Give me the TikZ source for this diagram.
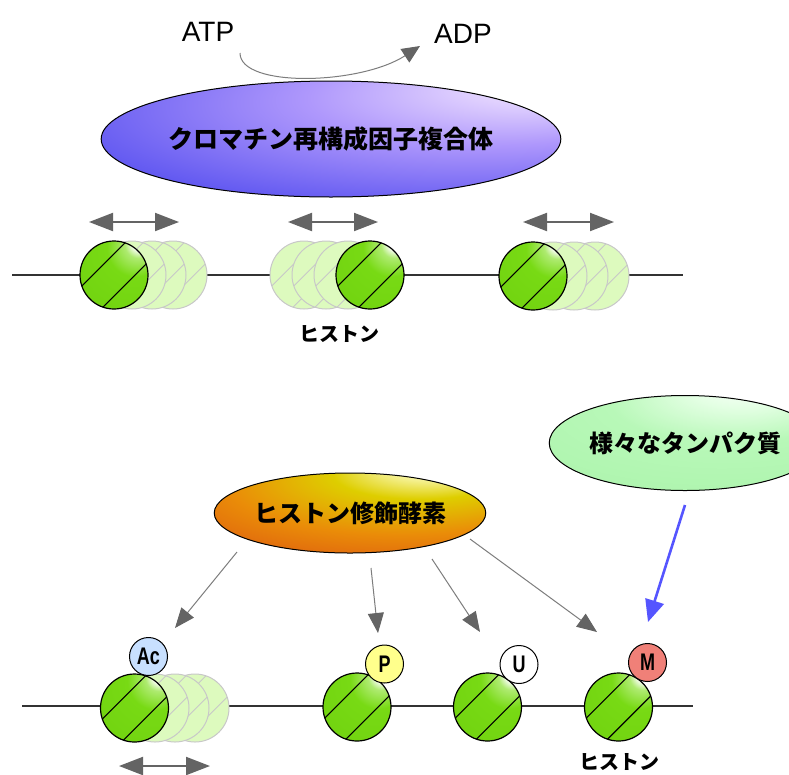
\documentclass[tikz,border=0pt]{standalone}
\usepackage{fontspec}
\usepackage{graphicx}
\setmainfont{Liberation Sans}
\newfontfamily\jpfont{Noto Sans CJK JP}
\usetikzlibrary{shapes.geometric,arrows.meta,calc}

% colours
\definecolor{ballhi}{RGB}{240,255,225}
\definecolor{ballmid}{RGB}{120,218,20}
\definecolor{balledge}{RGB}{86,182,0}
\definecolor{ghostfill}{RGB}{221,250,190}
\definecolor{ghostline}{RGB}{200,200,200}
\definecolor{bluehi}{RGB}{250,238,255}
\definecolor{bluemid}{RGB}{175,152,252}
\definecolor{bluebody}{RGB}{92,84,240}
\definecolor{blueedge}{RGB}{58,58,228}
\definecolor{orhi}{RGB}{252,252,190}
\definecolor{oryel}{RGB}{222,206,0}
\definecolor{ormid}{RGB}{234,140,8}
\definecolor{orred}{RGB}{218,80,18}
\definecolor{grhi}{RGB}{228,255,228}
\definecolor{grmid}{RGB}{184,248,184}
\definecolor{gredge}{RGB}{160,240,160}
\definecolor{shaftgray}{RGB}{125,125,125}
\definecolor{headgray}{RGB}{100,100,100}
\definecolor{protblue}{RGB}{85,85,255}
\definecolor{acfill}{RGB}{200,224,255}
\definecolor{pfill}{RGB}{255,255,140}
\definecolor{mfill}{RGB}{240,128,120}

% shadings
\pgfdeclareradialshading{histoneball}{\pgfpoint{20bp}{25bp}}{%
  color(0bp)=(white); color(5bp)=(white); color(10bp)=(ballhi!45!ballmid);
  color(21bp)=(ballmid); color(55bp)=(ballmid!75!balledge); color(100bp)=(balledge)}
\pgfdeclareradialshading{remodelball}{\pgfpoint{24bp}{24bp}}{%
  color(0bp)=(bluehi); color(8bp)=(bluehi!60!bluemid); color(20bp)=(bluemid);
  color(42bp)=(bluebody); color(75bp)=(blueedge)}
\pgfdeclareradialshading{enzymeball}{\pgfpoint{16bp}{31bp}}{%
  color(0bp)=(white); color(5bp)=(orhi); color(16bp)=(oryel);
  color(32bp)=(ormid); color(52bp)=(orred); color(80bp)=(orred)}
\pgfdeclareradialshading{proteinball}{\pgfpoint{12bp}{32bp}}{%
  color(0bp)=(white); color(9bp)=(grhi); color(22bp)=(grmid); color(70bp)=(gredge)}

\tikzset{
  dna/.style={draw=black!80, line width=1.3pt},
  stripes/.style={path picture={
    \draw[#1]
      ($(path picture bounding box.center)+(-60.6,39.4)$) -- ++(100,-100)
      ($(path picture bounding box.center)+(-39.4,60.6)$) -- ++(100,-100);}},
  histone/.style={circle, minimum size=68pt, inner sep=0pt, draw=black,
    line width=1.2pt, shading=histoneball,
    stripes={black, line width=1.1pt}},
  ghost/.style={circle, minimum size=68pt, inner sep=0pt, draw=ghostline,
    line width=1pt, fill=ghostfill,
    stripes={ghostline, line width=0.9pt}},
  badge/.style={circle, minimum size=38pt, inner sep=0pt, draw=black,
    line width=1pt, font=\bfseries\fontsize{24}{24}\selectfont},
  blob/.style={ellipse, inner sep=0pt, draw=black, line width=1pt,
    font=\jpfont\bfseries\fontsize{24}{24}\selectfont},
  jplabel/.style={font=\jpfont\bfseries\fontsize{20}{20}\selectfont, inner sep=0pt},
  molecule/.style={font=\fontsize{28}{28}\selectfont, inner sep=0pt},
  slide/.style={draw=headgray, line width=2pt,
    {Triangle[length=24pt,width=18pt]}-{Triangle[length=24pt,width=18pt]}},
  modarrow/.style={draw=shaftgray, line width=1pt,
    -{Triangle[length=20pt,width=16pt,color=headgray]}},
  bindarrow/.style={draw=protblue, line width=2.6pt,
    -{Triangle[length=22pt,width=19pt]}},
}
\newcommand{\narrow}[1]{\scalebox{0.75}[1]{#1}}

\begin{document}
\begin{tikzpicture}[x=1pt,y=-1pt]
\useasboundingbox (0,0) rectangle (789,774);
\fill[white] (0,0) rectangle (789,774);

% ---------------- remodelling ----------------
\node[molecule] (atp) at (208,32) {ATP};
\node[molecule] (adp) at (463,34) {ADP};
\coordinate (atpout) at (240,53);
\coordinate (adpin) at (420,46);
\draw[draw=shaftgray, line width=1pt,
  -{Triangle[length=18pt,width=16pt,color=headgray]}]
  (atpout) .. controls (240,88) and (360,85) .. (adpin);

\node[blob, minimum width=370pt, minimum height=116pt, shading=remodelball,
  font=\jpfont\bfseries\fontsize{25}{25}\selectfont]
  (remodel) at (331,139) {クロマチン再構成因子複合体};

% upper chromatin fibre
\coordinate (dnaTopL) at (12,275);
\coordinate (dnaTopR) at (683,275);
\draw[dna] (dnaTopL) -- (dnaTopR);

\node[ghost] (g1c) at (173,275) {};
\node[ghost] (g1b) at (152,275) {};
\node[ghost] (g1a) at (132,275) {};
\node[histone] (h1) at (114,275) {};

\node[ghost] (g2c) at (304,275) {};
\node[ghost] (g2b) at (326,275) {};
\node[ghost] (g2a) at (348,275) {};
\node[histone] (h2) at (370,275) {};

\node[ghost] (g3c) at (595,276) {};
\node[ghost] (g3b) at (574,276) {};
\node[ghost] (g3a) at (553,276) {};
\node[histone] (h3) at (533,276) {};

\coordinate (s1l) at (89,222);  \coordinate (s1r) at (179,222);
\coordinate (s2l) at (288,222); \coordinate (s2r) at (378,222);
\coordinate (s3l) at (523,222); \coordinate (s3r) at (614,222);
\draw[slide] (s1l) -- (s1r);
\draw[slide] (s2l) -- (s2r);
\draw[slide] (s3l) -- (s3r);

\node[jplabel] (histTop) at (339,334) {ヒストン};

% ---------------- modification ----------------
\node[blob, minimum width=256pt, minimum height=80pt, shading=enzymeball]
  (enzyme) at (350,513) {ヒストン修飾酵素};
\node[blob, minimum width=214pt, minimum height=95pt, shading=proteinball]
  (protein) at (685,443) {様々なタンパク質};

% lower chromatin fibre
\coordinate (dnaBotL) at (22,706);
\coordinate (dnaBotR) at (693,706);
\draw[dna] (dnaBotL) -- (dnaBotR);

\node[ghost] (gAc) at (195,708) {};
\node[ghost] (gAb) at (175,708) {};
\node[ghost] (gAa) at (155,708) {};
\node[histone] (hAc) at (134.5,708) {};
\node[histone] (hP) at (357,707) {};
\node[histone] (hU) at (487.5,707) {};
\node[histone] (hM) at (618.5,707) {};

\node[badge, fill=acfill] (ac) at (148.5,656.5) {\narrow{Ac}};
\node[badge, fill=pfill]  (ph) at (384.5,664) {\narrow{P}};
\node[badge, fill=white]  (ub) at (519,664.5) {\narrow{U}};
\node[badge, fill=mfill]  (me) at (647.5,662.5) {\narrow{M}};

\coordinate (sAl) at (119,766); \coordinate (sAr) at (210,766);
\draw[slide] (sAl) -- (sAr);

% enzyme arrows
\coordinate (e1) at (237,552); \coordinate (t1) at (175,628);
\coordinate (e2) at (371,568); \coordinate (t2) at (378,633);
\coordinate (e3) at (432,559); \coordinate (t3) at (480,632);
\coordinate (e4) at (470,539); \coordinate (t4) at (597,632);
\draw[modarrow] (e1) -- (t1);
\draw[modarrow] (e2) -- (t2);
\draw[modarrow] (e3) -- (t3);
\draw[modarrow] (e4) -- (t4);

% binding protein arrow
\coordinate (p1) at (685,505); \coordinate (pt) at (648,622);
\draw[bindarrow] (p1) -- (pt);

\node[jplabel] (histBot) at (619,762) {ヒストン};
\end{tikzpicture}
\end{document}
